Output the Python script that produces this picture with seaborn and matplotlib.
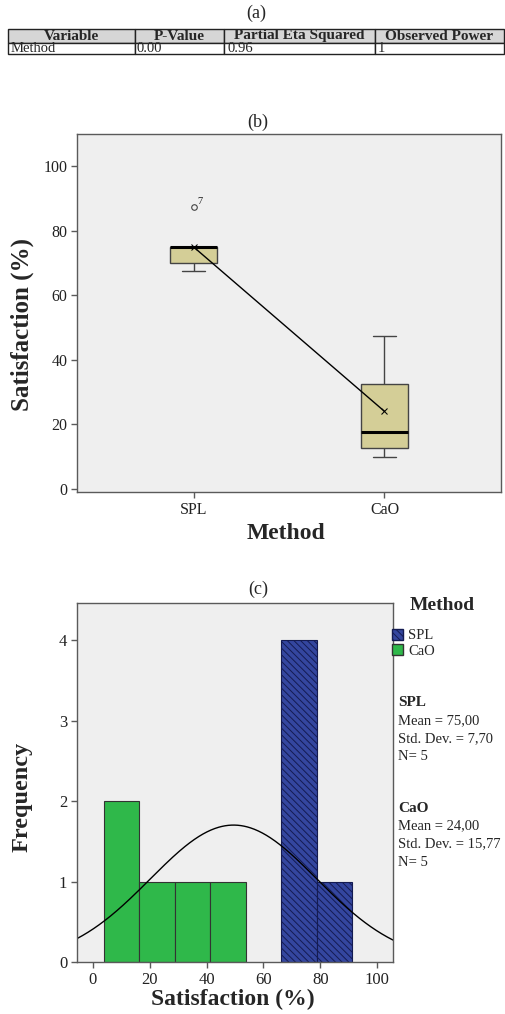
import numpy as np
import pandas as pd
import matplotlib
matplotlib.use("Agg")
import matplotlib.pyplot as plt
import seaborn as sns
from matplotlib.patches import Patch
from matplotlib.colors import to_rgba

# ---------------- data ----------------
methods = ["SPL", "CaO"]
spl_values = [67.5, 70.0, 75.0, 75.0, 87.5]
cao_values = [10.0, 12.5, 17.5, 32.5, 47.5]
outlier_case = "7"

# statistics as printed in the chart's side panel
stat_means = ["75,00", "24,00"]
stat_sds = ["7,70", "15,77"]
stat_ns = ["5", "5"]

table_columns = ["Variable", "P-Value", "Partial Eta Squared", "Observed Power"]
table_row = ["Method", "0.00", "0.96", "1"]

box_yticks = [0, 20, 40, 60, 80, 100]
hist_xticks = [0, 20, 40, 60, 80, 100]
hist_yticks = [0, 1, 2, 3, 4]
bin_start = 3.75
bin_width = 12.5

# ---------------- style ----------------
sns.set_theme(style="white")
plt.rcParams["font.family"] = ["Liberation Serif", "DejaVu Serif"]
plt.rcParams["hatch.linewidth"] = 0.7

SPINE = "#5a5a5a"
PANEL_BG = "#efefef"
BOX_FILL = "#d4ce97"
BLUE = "#34469f"
BLUE_EDGE = "#141b52"
GREEN = "#2fb84a"

df = pd.DataFrame({
    "Method": ["SPL"] * len(spl_values) + ["CaO"] * len(cao_values),
    "Satisfaction": spl_values + cao_values,
})

W, H = 505, 1014
fig = plt.figure(figsize=(W / 100, H / 100), dpi=100)


def fx(px):
    return px / W


def fy(py):
    return 1 - py / H


def style_axes(ax, labelsize, pad=2):
    ax.set_facecolor(PANEL_BG)
    for s in ax.spines.values():
        s.set_visible(True)
        s.set_color(SPINE)
        s.set_linewidth(1)
    ax.tick_params(axis="both", direction="out", length=4, width=1,
                   color=SPINE, labelsize=labelsize, labelcolor="#222222",
                   left=True, bottom=True, top=False, right=False, pad=pad)
    ax.grid(False)


# ---------------- (a) table ----------------
fig.text(fx(256), fy(13), "(a)", ha="center", va="center", fontsize=13)
ax_t = fig.add_axes([fx(8), fy(54), fx(496), (54 - 29) / H])
ax_t.axis("off")
tbl = ax_t.table(cellText=[table_row], colLabels=table_columns,
                 colWidths=[127, 89, 151, 129], bbox=[0, 0, 1, 1],
                 cellLoc="left", colLoc="center")
tbl.auto_set_font_size(False)
for (r, c), cell in tbl.get_celld().items():
    cell.set_edgecolor("#222222")
    cell.set_linewidth(1)
    cell.PAD = 0.02
    if r == 0:
        cell.set_facecolor("#d6d6d6")
        cell.set_height(14)
        cell.get_text().set_fontweight("bold")
        cell.get_text().set_fontsize(11)
    else:
        cell.set_facecolor("white")
        cell.set_height(11)
        cell.get_text().set_fontsize(10.5)

# ---------------- (b) box plot ----------------
fig.text(fx(258), fy(122), "(b)", ha="center", va="center", fontsize=13)
ax_b = fig.add_axes([fx(77), fy(492), fx(424), 358 / H])
sns.boxplot(data=df, x="Method", y="Satisfaction", order=methods, width=0.25,
            color=BOX_FILL, saturation=1, linecolor="#444444", linewidth=1,
            flierprops=dict(marker="o", markerfacecolor="none",
                            markeredgecolor="#444444", markersize=4,
                            markeredgewidth=0.8),
            medianprops=dict(color="black", linewidth=2.2), ax=ax_b)
sns.pointplot(data=df, x="Method", y="Satisfaction", order=methods,
              estimator="mean", errorbar=None, color="black", markers="x",
              linestyles="-", linewidth=1, markersize=4, ax=ax_b)

# outlier label
spl_arr = np.array(spl_values)
q1, q3 = np.percentile(spl_arr, [25, 75])
iqr = q3 - q1
outliers = spl_arr[(spl_arr > q3 + 1.5 * iqr) | (spl_arr < q1 - 1.5 * iqr)]
for v in outliers:
    ax_b.annotate(outlier_case, xy=(0, v), xytext=(3, 2), textcoords="offset points",
                  fontsize=7.5, color="#222222")

style_axes(ax_b, 11.5, pad=3)
ax_b.set_xlim(-0.61, 1.61)
ax_b.set_ylim(-1, 110)
ax_b.set_yticks(box_yticks)
ax_b.set_xlabel("Method", fontsize=17, fontweight="bold", va="center")
ax_b.xaxis.set_label_coords(0.493, -0.115)
ax_b.set_ylabel("Satisfaction (%)", fontsize=18, fontweight="bold", va="center")
ax_b.yaxis.set_label_coords(-0.13, 0.469)

# ---------------- (c) histogram ----------------
fig.text(fx(258), fy(589), "(c)", ha="center", va="center", fontsize=13)
ax_h = fig.add_axes([fx(77), fy(962), fx(316), 359 / H])
all_vals = np.array(spl_values + cao_values)
edges = np.arange(bin_start, all_vals.max() + bin_width, bin_width)
palette = {"SPL": BLUE, "CaO": GREEN}
sns.histplot(data=df, x="Satisfaction", hue="Method", hue_order=methods,
             bins=edges, palette=palette, alpha=1, multiple="layer",
             element="bars", legend=False, ax=ax_h,
             edgecolor="#333333", linewidth=0.8)
blue_rgba = to_rgba(BLUE)
for p in ax_h.patches:
    if p.get_height() == 0:
        p.set_visible(False)
        continue
    if np.allclose(p.get_facecolor()[:3], blue_rgba[:3], atol=0.02):
        p.set_edgecolor(BLUE_EDGE)
        p.set_hatch("\\\\\\\\\\")

# normal curve fitted to all values
mu, sd = all_vals.mean(), all_vals.std(ddof=1)
xs = np.linspace(-5.6, 105.6, 400)
ys = len(all_vals) * bin_width * np.exp(-0.5 * ((xs - mu) / sd) ** 2) / (sd * np.sqrt(2 * np.pi))
sns.lineplot(x=xs, y=ys, color="black", linewidth=1, sort=False,
             estimator=None, ax=ax_h)

style_axes(ax_h, 12, pad=3)
ax_h.set_xlim(-5.6, 105.6)
ax_h.set_ylim(0, 4.46)
ax_h.set_xticks(hist_xticks)
ax_h.set_yticks(hist_yticks)
ax_h.set_xlabel("Satisfaction (%)", fontsize=17, fontweight="bold", va="center")
ax_h.xaxis.set_label_coords(0.494, -0.104)
ax_h.set_ylabel("Frequency", fontsize=17.5, fontweight="bold", va="center")
ax_h.yaxis.set_label_coords(-0.174, 0.46)

# legend + statistics
fig.text(fx(442), fy(605), "Method", ha="center", va="center",
         fontsize=14, fontweight="bold")
handles = [
    Patch(facecolor=BLUE, edgecolor=BLUE_EDGE, hatch="\\\\\\\\\\", label="SPL"),
    Patch(facecolor=GREEN, edgecolor="#333333", label="CaO"),
]
fig.legend(handles=handles, loc="upper left", bbox_to_anchor=(fx(392), fy(629)),
           frameon=False, fontsize=10.5, handlelength=0.75, handleheight=0.75,
           handletextpad=0.35, labelspacing=0.12, borderpad=0, borderaxespad=0)

stats_top = [703, 808]
for i, name in enumerate(methods):
    y0 = stats_top[i]
    fig.text(fx(398), fy(y0), name, ha="left", va="center", fontsize=11,
             fontweight="bold")
    lines = [
        f"Mean = {stat_means[i]}",
        f"Std. Dev. = {stat_sds[i]}",
        f"N= {stat_ns[i]}",
    ]
    for j, line in enumerate(lines):
        fig.text(fx(398), fy(y0 + 18 * (j + 1)), line, ha="left", va="center",
                 fontsize=10.5)

fig.savefig("out.png", dpi=100)
